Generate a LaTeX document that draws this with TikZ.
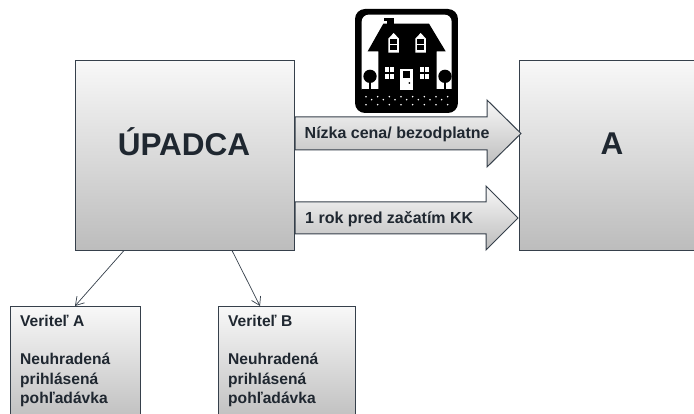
\documentclass[tikz,border=0pt]{standalone}
\usepackage{fontspec}
\setmainfont{Liberation Sans}
\usetikzlibrary{arrows.meta}
\definecolor{ink}{HTML}{1F2730}
\definecolor{edge}{HTML}{36404B}
\definecolor{gtop}{HTML}{F8F8F8}
\definecolor{gbot}{HTML}{BCBCBC}
\tikzset{
  gradbox/.style={draw=edge,line width=1pt,top color=gtop,bottom color=gbot,rectangle,inner sep=0pt,anchor=north west},
  gradarrow/.style={draw=edge,line width=1pt,top color=gtop,bottom color=gbot},
  big/.style={text=ink,inner sep=0pt,font=\fontsize{31.5}{36}\selectfont\bfseries},
  mid/.style={text=ink,inner sep=0pt,font=\fontsize{16}{19}\selectfont\bfseries,anchor=base west},
  small/.style={text=ink,font=\fontsize{15.6}{19.2}\selectfont\bfseries,anchor=north west,align=left,inner sep=0pt},
  thin/.style={draw=edge,line width=0.7pt,-{Straight Barb[length=8pt,width=10pt]}},
  hb/.style={fill=black,draw=none},
  hw/.style={fill=white,draw=none}
}
\begin{document}
\begin{tikzpicture}[x=1pt,y=-1pt]
\path[use as bounding box,clip] (0,0) rectangle (694,414);
\fill[white] (0,0) rectangle (694,414);
% boxes
\node[gradbox,minimum width=218.5pt,minimum height=190.5pt] (up) at (75,60) {};
\node[gradbox,minimum width=190pt,minimum height=190.5pt] (a) at (519,60) {};
\node[gradbox,minimum width=130pt,minimum height=120pt] (va) at (10,306) {};
\node[gradbox,minimum width=137pt,minimum height=120pt] (vb) at (218,306) {};
\node[big] (upt) at (184,142) {ÚPADCA};
\node[big] (at) at (612,144) {A};
% block arrows
\path[gradarrow] (295,117) -- (487,117) -- (487,100) -- (521,133.5) -- (487,167) -- (487,150) -- (295,150) -- cycle;
\path[gradarrow] (295,202) -- (486,202) -- (486,186) -- (518,218) -- (486,250) -- (486,234) -- (295,234) -- cycle;
\node[mid] (t1) at (304.5,138.5) {Nízka cena/ bezodplatne};
\node[mid] (t2) at (305,224) {1 rok pred začatím KK};
% lower labels
\node[small] (la) at (20,315) {Veriteľ A\\[0pt]\mbox{}\\Neuhradená\\prihlásená\\pohľadávka};
\node[small] (lb) at (228,315) {Veriteľ B\\[0pt]\mbox{}\\Neuhradená\\prihlásená\\pohľadávka};
% connectors
\coordinate (s1) at (124,250.5);
\coordinate (e1) at (75,306);
\coordinate (s2) at (232,250.5);
\coordinate (e2) at (260,306);
\draw[thin] (s1) -- (e1);
\draw[thin] (s2) -- (e2);
% house, in 3x zoom coordinates
\begin{scope}[shift={(355,8)},x=0.3333pt,y=-0.3333pt]
\fill[black,rounded corners=10pt] (0,3) rectangle (309,315);
\fill[white,rounded corners=7pt] (20,20) rectangle (290,262);
\fill[hb] (20,243) rectangle (290,270);
% chimney, roof, body
\fill[hb] (87,30) rectangle (117,38);
\fill[hb] (97,30) rectangle (117,50);
\fill[hb] (85,47) -- (222,47) -- (272,130) -- (245,130) -- (245,245) -- (70,245) -- (70,130) -- (38,130) -- cycle;
% dormers
\foreach \cx in {116,197}{
  \fill[hw] (\cx-16,92) -- (\cx,75) -- (\cx+16,92) -- (\cx+16,134) -- (\cx-16,134) -- cycle;
  \fill[hb] (\cx-10,92) rectangle (\cx+10,107);
  \fill[hb] (\cx-10,112) rectangle (\cx+10,127);
}
% windows
\foreach \cx in {104,208}{
  \fill[hw] (\cx-14,177) rectangle (\cx+14,214);
  \fill[hb] (\cx-2,177) rectangle (\cx+2,214);
  \fill[hb] (\cx-14,193.5) rectangle (\cx+14,197.5);
}
% door
\fill[hw] (135,183) rectangle (173,245);
\fill[hb] (143,190) rectangle (165,211);
\fill[hb] (163,225) circle (3);
% trees
\foreach \cx in {45,270}{
  \fill[hb] (\cx,205) circle (20);
  \fill[hb] (\cx-2.5,215) rectangle (\cx+2.5,245);
}
% dots in the ground
\foreach \i in {0,...,7}{
  \fill[white] (33+\i*35,266) circle (2.6);
  \fill[white] (33+\i*35,290) circle (2.6);
}
\foreach \i in {0,...,6}{
  \fill[white] (50+\i*35,275) circle (2.6);
}
\end{scope}
\end{tikzpicture}
\end{document}
